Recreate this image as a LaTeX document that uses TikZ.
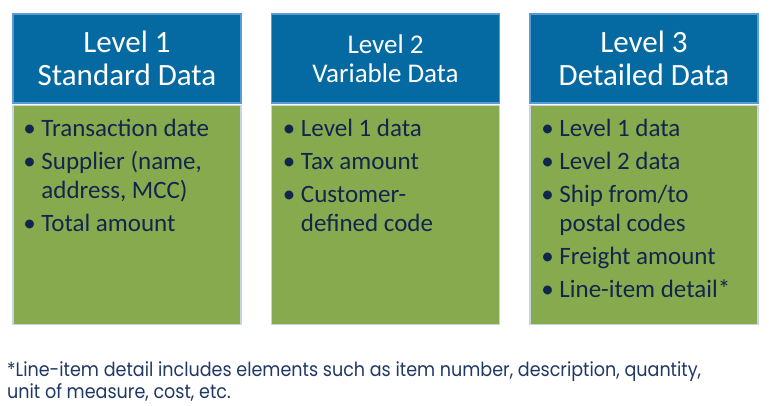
\documentclass[tikz,border=0pt]{standalone}
\usepackage{fontspec}
\setmainfont{Carlito}
\newfontfamily\notefont[FakeStretch=0.9]{Poppins}
\usetikzlibrary{positioning}

\definecolor{headblue}{RGB}{6,106,162}
\definecolor{headline}{RGB}{91,155,213}
\definecolor{bodygreen}{RGB}{135,170,79}
\definecolor{bodyline}{RGB}{200,212,228}
\definecolor{navy}{RGB}{17,38,77}
\definecolor{notenavy}{RGB}{31,56,100}

\newcommand{\itm}[1]{\makebox[18pt][l]{\textbullet}#1}
\newcommand{\cnt}[1]{\hspace*{18pt}#1}

\begin{document}
\begin{tikzpicture}[x=1pt,y=-1pt,node distance=29pt,
	head/.style={draw=headline,line width=1.5pt,fill=headblue,text=white,
		minimum width=228pt,minimum height=89pt,align=center,inner sep=0pt,
		font=\fontsize{31}{32.5}\selectfont},
	body/.style={draw=bodyline,line width=1.5pt,fill=bodygreen,
		minimum width=228pt,minimum height=219pt,inner sep=0pt},
	list/.style={anchor=north west,align=left,inner sep=0pt,text=navy,
		font=\fontsize{25}{29}\selectfont},
	note/.style={anchor=north west,align=left,inner sep=0pt,text=notenavy,
		font=\notefont\fontsize{19.5}{22.5}\selectfont}]
	\useasboundingbox (0,0) rectangle (769,405);

	\node[head]             (h1) at (127,58.5) {Level 1\\Standard Data};
	\node[head,right=of h1,font=\fontsize{27}{29.5}\selectfont] (h2) {Level 2\\Variable Data};
	\node[head,right=of h2] (h3) {Level 3\\Detailed Data};

	\node[body,below=1pt of h1] (g1) {};
	\node[body,below=1pt of h2] (g2) {};
	\node[body,below=1pt of h3] (g3) {};

	\node[list] (l1) at ([xshift=11pt,yshift=-14pt]g1.north west)
		{\itm{Transaction date}\\[4pt]\itm{Supplier (name,}\\\cnt{address, MCC)}\\[4pt]\itm{Total amount}};
	\node[list] (l2) at ([xshift=12pt,yshift=-14pt]g2.north west)
		{\itm{Level 1 data}\\[4pt]\itm{Tax amount}\\[4pt]\itm{Customer-}\\\cnt{defined code}};
	\node[list] (l3) at ([xshift=12pt,yshift=-14pt]g3.north west)
		{\itm{Level 1 data}\\[4pt]\itm{Level 2 data}\\[4pt]\itm{Ship from/to}\\\cnt{postal codes}\\[4pt]\itm{Freight amount}\\[4pt]\itm{Line-item detail*}};

	\node[note] (fn) at (7,361)
		{*Line-item detail includes elements such as item number, description, quantity,\\unit of measure, cost, etc.};
\end{tikzpicture}
\end{document}
